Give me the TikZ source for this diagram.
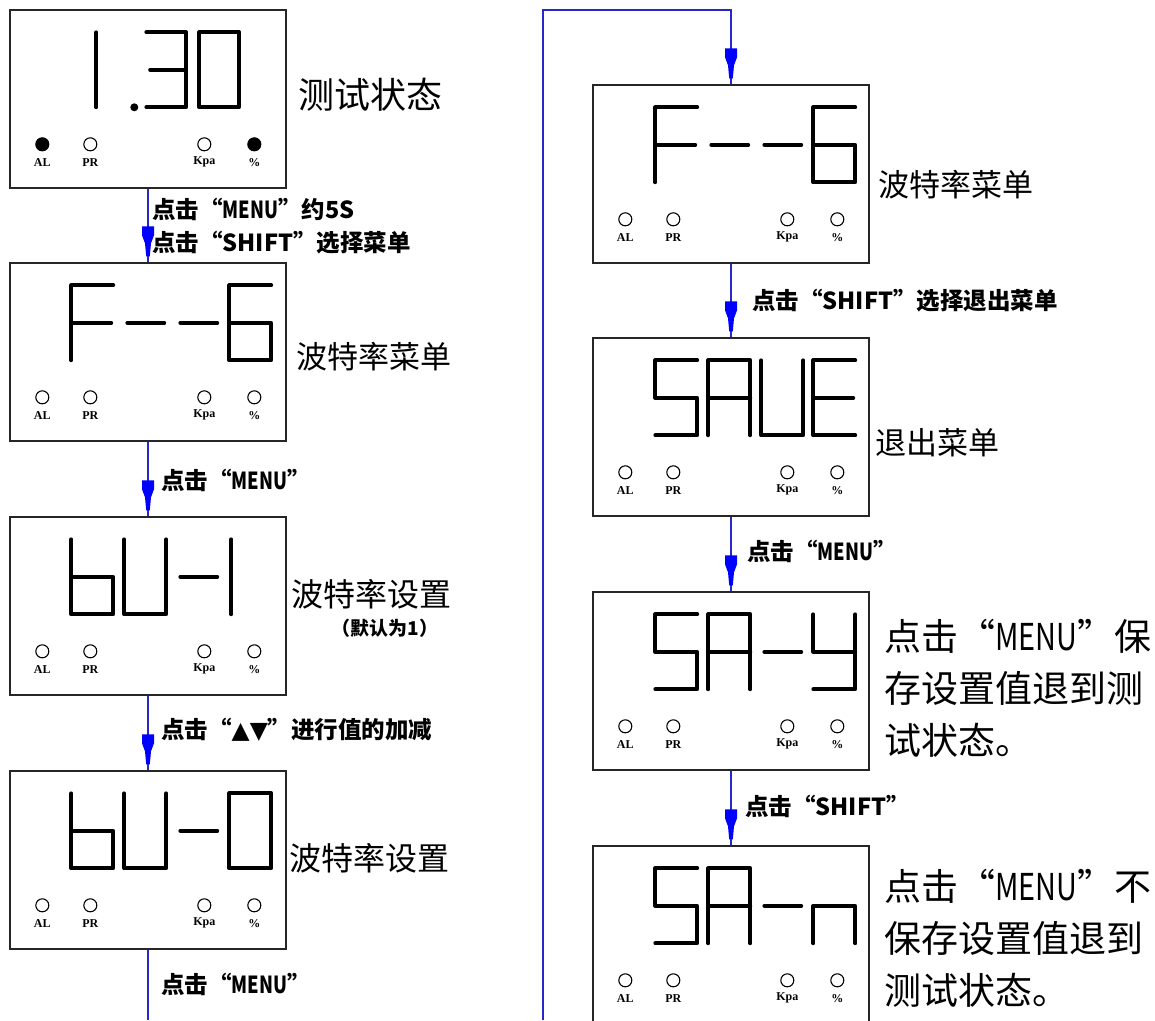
\documentclass[tikz,border=0pt]{standalone}
\usepackage{fontspec}
\setmainfont{Noto Sans CJK SC}
\newfontfamily\symf{DejaVu Sans}
\newfontfamily\ledf{Liberation Serif}
\definecolor{linkblue}{RGB}{40,40,200}
\definecolor{headblue}{RGB}{0,0,255}
\newcommand\menuw{\scalebox{0.78}[1]{MENU}}
\begin{document}
\begin{tikzpicture}[x=1pt,y=-1pt,
  lcd/.style={draw=black!85, line width=1.4pt, minimum width=276pt, minimum height=178pt, inner sep=0pt},
  conn/.style={draw=linkblue, line width=1.3pt},
  segln/.style={line width=3.8pt, line cap=round, line join=round},
  ledring/.style={draw=black, line width=1.1pt},
  ledlbl/.style={inner sep=0pt, font=\ledf\bfseries\fontsize{12}{12}\selectfont},
  bigl/.style={anchor=west, inner sep=0pt},
  smalll/.style={anchor=west, inner sep=0pt, font=\bfseries\fontsize{23.5}{26}\selectfont},
  gzero/.pic={\draw[segln] (0,0) rectangle (42,75);},
  gone/.pic={\draw[segln] (0,0) -- (0,75);},
  gthree/.pic={\draw[segln] (0,0) -- (42,0) -- (42,75) -- (0,75); \draw[segln] (4,37.5) -- (42,37.5);},
  gF/.pic={\draw[segln] (42,0) -- (0,0) -- (0,75); \draw[segln] (0,37.5) -- (40,37.5);},
  gdash/.pic={\draw[segln] (3,37.5) -- (40,37.5);},
  gsix/.pic={\draw[segln] (42,0) -- (0,0) -- (0,75) -- (42,75) -- (42,37.5) -- (0,37.5);},
  gb/.pic={\draw[segln] (0,0) -- (0,75) -- (42,75) -- (42,37.5) -- (0,37.5);},
  gU/.pic={\draw[segln] (0,0) -- (0,75) -- (42,75) -- (42,0);},
  gS/.pic={\draw[segln] (42,0) -- (0,0) -- (0,37.5) -- (42,37.5) -- (42,75) -- (0,75);},
  gA/.pic={\draw[segln] (0,75) -- (0,0) -- (42,0) -- (42,75); \draw[segln] (0,37.5) -- (42,37.5);},
  gE/.pic={\draw[segln] (42,0) -- (0,0) -- (0,75) -- (42,75); \draw[segln] (0,37.5) -- (40,37.5);},
  gy/.pic={\draw[segln] (0,0) -- (0,37.5) -- (42,37.5); \draw[segln] (42,0) -- (42,75) -- (0,75);},
  gn/.pic={\draw[segln] (0,75) -- (0,37.5) -- (42,37.5) -- (42,75);},
  leds/.pic={
    \foreach \x/\t/\n/\f in {33/AL/al/#1, 81/PR/pr/white, 195/Kpa/kpa/white, 245/\%/pct/#1} {
      \draw[ledring, fill=\f] (\x,135) circle (6.5);
      \node[ledlbl] (-\n) at (\x,153) {\t};
    }
  },
  ahead/.pic={\fill[headblue] (-6,-30) -- (6,-30) -- (6,-21) -- (3,-13) -- (1.8,0) -- (-1.8,0) -- (-3,-13) -- (-6,-21) -- cycle;}
]
\useasboundingbox (0,0) rectangle (1155,1020);
\fill[white] (0,0) rectangle (1155,1020);
\clip (0,0) rectangle (1155,1020);

% boxes
\node[lcd] (L1) at (148,99) {};
\node[lcd] (L2) at (148,352) {};
\node[lcd] (L3) at (148,606) {};
\node[lcd] (L4) at (148,860) {};
\node[lcd] (R1) at (731,174) {};
\node[lcd] (R2) at (731,427) {};
\node[lcd] (R3) at (731,681) {};
\node[lcd] (R4) at (731,935) {};

% display contents
\begin{scope}[shift={(L1.north west)}]
  \pic at (87,23) {gone};
  \fill (125,98) circle (4);
  \pic[xscale=0.95] at (137,23) {gthree};
  \pic[xscale=0.95] at (190,23) {gzero};
\end{scope}
\pic (L1led) at (L1.north west) {leds=black};

\begin{scope}[shift={(L2.north west)}]
  \pic at (62,23) {gF}; \pic at (115,23) {gdash}; \pic at (168,23) {gdash}; \pic at (220,23) {gsix};
\end{scope}
\pic (L2led) at (L2.north west) {leds=white};

\begin{scope}[shift={(L3.north west)}]
  \pic at (62,23) {gb}; \pic at (115,23) {gU}; \pic at (168,23) {gdash}; \pic at (222,23) {gone};
\end{scope}
\pic (L3led) at (L3.north west) {leds=white};

\begin{scope}[shift={(L4.north west)}]
  \pic at (62,23) {gb}; \pic at (115,23) {gU}; \pic at (168,23) {gdash}; \pic at (220,23) {gzero};
\end{scope}
\pic (L4led) at (L4.north west) {leds=white};

\begin{scope}[shift={(R1.north west)}]
  \pic at (63,23) {gF}; \pic at (116,23) {gdash}; \pic at (169,23) {gdash}; \pic at (221,23) {gsix};
\end{scope}
\pic (R1led) at (R1.north west) {leds=white};

\begin{scope}[shift={(R2.north west)}]
  \pic at (63,23) {gS}; \pic at (116,23) {gA}; \pic at (169,23) {gU}; \pic at (221,23) {gE};
\end{scope}
\pic (R2led) at (R2.north west) {leds=white};

\begin{scope}[shift={(R3.north west)}]
  \pic at (63,23) {gS}; \pic at (116,23) {gA}; \pic at (169,23) {gdash}; \pic at (221,23) {gy};
\end{scope}
\pic (R3led) at (R3.north west) {leds=white};

\begin{scope}[shift={(R4.north west)}]
  \pic at (63,23) {gS}; \pic at (116,23) {gA}; \pic at (169,23) {gdash}; \pic at (221,23) {gn};
\end{scope}
\pic (R4led) at (R4.north west) {leds=white};

% connectors
\draw[conn] (L1.south) -- (L2.north);
\pic at ([yshift=6pt]L2.north) {ahead};
\draw[conn] (L2.south) -- (L3.north);
\pic at ([yshift=6pt]L3.north) {ahead};
\draw[conn] (L3.south) -- (L4.north);
\pic at ([yshift=6pt]L4.north) {ahead};
\coordinate (Lend) at (147,1020);
\draw[conn] (L4.south) -- (L4.south |- Lend);
\coordinate (Rstart) at (543,1020);
\coordinate (Rtop) at (543,10);
\draw[conn] (Rstart) -- (Rtop) -- (R1.north |- Rtop) -- (R1.north);
\pic at ([yshift=6pt]R1.north) {ahead};
\draw[conn] (R1.south) -- (R2.north);
\pic at ([yshift=6pt]R2.north) {ahead};
\draw[conn] (R2.south) -- (R3.north);
\pic at ([yshift=6pt]R3.north) {ahead};
\draw[conn] (R3.south) -- (R4.north);
\pic at ([yshift=6pt]R4.north) {ahead};

% connector labels
\node[smalll] (c1a) at (152,209) {点击“\menuw”约5S};
\node[smalll] (c1b) at (152,243) {点击“SHIFT”选择菜单};
\node[smalll] (c2) at (161,480) {点击“\menuw”};
\node[smalll] (c3) at (161,730) {点击“{\symf ▲▼}”进行值的加减};
\node[smalll] (c4) at (161,984) {点击“\menuw”};
\node[smalll] (c5) at (752,301) {点击“SHIFT”选择退出菜单};
\node[smalll] (c6) at (747,551) {点击“\menuw”};
\node[smalll] (c7) at (745,806) {点击“SHIFT”};

% box labels
\node[bigl, font=\fontsize{36}{40}\selectfont] (t1) at (298,95) {测试状态};
\node[bigl, font=\fontsize{31}{36}\selectfont] (t2) at (296,357) {波特率菜单};
\node[bigl, font=\fontsize{32}{36}\selectfont] (t3) at (291,594) {波特率设置};
\node[inner sep=0pt, font=\bfseries\fontsize{19}{22}\selectfont] (t3b) at (385,628) {（默认为1）};
\node[bigl, font=\fontsize{32}{36}\selectfont] (t4) at (289,858) {波特率设置};
\node[bigl, font=\fontsize{31}{36}\selectfont] (t5) at (878,185) {波特率菜单};
\node[bigl, font=\fontsize{31}{36}\selectfont] (t6) at (875,443) {退出菜单};
\node[bigl, align=left, font=\fontsize{37}{52}\selectfont] (t7) at (884,688) {点击“\menuw”保\\存设置值退到测\\试状态。};
\node[bigl, align=left, font=\fontsize{37}{52}\selectfont] (t8) at (884,938) {点击“\menuw”不\\保存设置值退到\\测试状态。};
\end{tikzpicture}
\end{document}
